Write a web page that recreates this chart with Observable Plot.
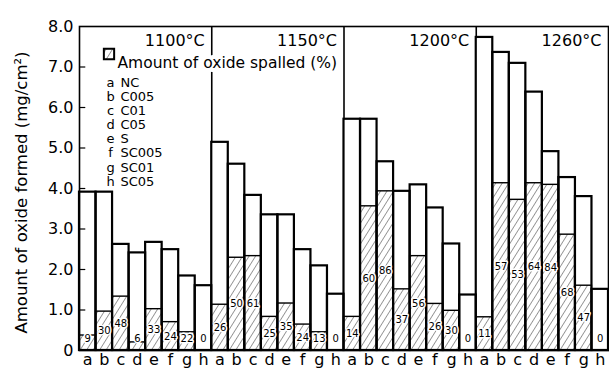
<!DOCTYPE html>
<html>
<head>
<meta charset="utf-8">
<script src="https://cdn.jsdelivr.net/npm/d3@7"></script>
<script src="https://cdn.jsdelivr.net/npm/@observablehq/plot@0.6"></script>
<style>
  html, body { margin: 0; padding: 0; background: #fff; }
</style>
</head>
<body>
<div id="chart"></div>
<script>
// Oxidation test groups and specimens
const temps = ["1100°C", "1150°C", "1200°C", "1260°C"];
const letters = ["a", "b", "c", "d", "e", "f", "g", "h"];
const alloys = ["NC", "C005", "C01", "C05", "S", "SC005", "SC01", "SC05"];

// Amount of oxide formed (mg/cm²)
const formed1100 = [3.91, 3.91, 2.62, 2.41, 2.67, 2.49, 1.84, 1.60];
const formed1150 = [5.14, 4.60, 3.83, 3.35, 3.35, 2.49, 2.09, 1.39];
const formed1200 = [5.71, 5.71, 4.66, 3.93, 4.09, 3.52, 2.63, 1.37];
const formed1260 = [7.73, 7.36, 7.09, 6.38, 4.91, 4.27, 3.80, 1.51];

// Amount of oxide spalled (mg/cm²)
const spalled1100 = [0.37, 0.96, 1.33, 0.20, 1.02, 0.70, 0.45, 0];
const spalled1150 = [1.13, 2.29, 2.33, 0.83, 1.16, 0.64, 0.45, 0];
const spalled1200 = [0.83, 3.56, 3.93, 1.51, 2.33, 1.15, 0.98, 0];
const spalled1260 = [0.82, 4.13, 3.72, 4.13, 4.09, 2.86, 1.60, 0];

// Spalled share (%)
const pct1100 = [9, 30, 48, 6, 33, 24, 22, 0];
const pct1150 = [26, 50, 61, 25, 35, 24, 13, 0];
const pct1200 = [14, 60, 86, 37, 56, 26, 30, 0];
const pct1260 = [11, 57, 53, 64, 84, 68, 47, 0];

const yTicks = [0, 1, 2, 3, 4, 5, 6, 7, 8];

const formed = [formed1100, formed1150, formed1200, formed1260];
const spalled = [spalled1100, spalled1150, spalled1200, spalled1260];
const pct = [pct1100, pct1150, pct1200, pct1260];

const rows = [];
temps.forEach((t, g) => {
  letters.forEach((l, j) => {
    rows.push({
      i: g * 8 + j, temp: t, letter: l,
      formed: formed[g][j], spalled: spalled[g][j], pct: pct[g][j]
    });
  });
});
const groupStarts = rows.filter(d => d.letter === "a" && d.i > 0);
const tickPos = rows.map(d => d.i + 0.5);

const chart = Plot.plot({
  width: 609,
  height: 374,
  marginLeft: 79,
  marginRight: 1,
  marginTop: 26,
  marginBottom: 24,
  style: { fontFamily: "DejaVu Sans, sans-serif", fontSize: "16px", background: "white", color: "black" },
  x: { domain: [0, 32], ticks: tickPos, tickFormat: d => letters[Math.floor(d) % 8], tickSize: 0, tickPadding: 3, label: null },
  y: { domain: [0, 8], ticks: yTicks, tickFormat: d => d === 0 ? "0" : d.toFixed(1), tickSize: 0, tickPadding: 6, label: null },
  marks: [
    // spalled part, hatched
    Plot.rectY(rows, { x1: d => d.i, x2: d => d.i + 1, y1: 0, y2: "spalled", fill: "url(#hatch)", stroke: "black", strokeWidth: 1.4 }),
    // total oxide formed, outlined
    Plot.rectY(rows, { x1: d => d.i, x2: d => d.i + 1, y1: 0, y2: "formed", fill: "none", stroke: "black", strokeWidth: 2.2 }),
    // group separators up to the top of the frame
    Plot.ruleX(groupStarts, { x: "i", y1: "formed", y2: 8, strokeWidth: 1.6 }),
    Plot.frame({ stroke: "black", strokeWidth: 1.6 }),
    // inward y ticks
    Plot.ruleY(yTicks.filter(d => d > 0 && d < 8), { x1: 0, x2: 0.38, strokeWidth: 1.2 }),
    // percentage labels
    Plot.text(rows, {
      x: d => d.i + 0.5, y: d => Math.max(0.3, d.spalled * 0.5), text: d => String(d.pct),
      fontSize: 10, fill: "#000", stroke: "#fff", strokeWidth: 3, paintOrder: "stroke"
    }),
    // temperature headings
    Plot.text(temps, { x: (d, k) => (k + 1) * 8, y: 8, text: d => d, textAnchor: "end", dx: -7, dy: 14, fontSize: 16 }),
    // legend
    Plot.text(["Amount of oxide spalled (%)"], {
      frameAnchor: "top-left", dx: 38, dy: 30, textAnchor: "start", fontSize: 15.5,
      fill: "black", stroke: "white", strokeWidth: 8, paintOrder: "stroke"
    }),
    Plot.dot([0], { frameAnchor: "top-left", dx: 29.5, dy: 27.5, symbol: "square", r: 5.8, fill: "url(#hatch)", stroke: "black", strokeWidth: 2 }),
    Plot.text([letters.join("\n")], { frameAnchor: "top-left", dx: 31, dy: 50, lineAnchor: "top", textAnchor: "middle", fontSize: 13, lineHeight: 1.09 }),
    Plot.text([alloys.join("\n")], { frameAnchor: "top-left", dx: 41, dy: 50, lineAnchor: "top", textAnchor: "start", fontSize: 13, lineHeight: 1.09 }),
    // y-axis title
    Plot.text(["Amount of oxide formed (mg/cm²)"], { frameAnchor: "left", textAnchor: "middle", rotate: -90, dx: -58, dy: 4, fontSize: 16.5 })
  ]
});

// diagonal hatch fill
d3.select(chart).insert("defs", ":first-child").html(
  '<pattern id="hatch" patternUnits="userSpaceOnUse" width="5.5" height="5.5" patternTransform="rotate(32)">' +
  '<rect width="5.5" height="5.5" fill="white"></rect>' +
  '<line x1="0" y1="0" x2="0" y2="5.5" stroke="#222" stroke-width="0.9"></line>' +
  '</pattern>'
);

document.getElementById("chart").append(chart);
</script>
</body>
</html>
